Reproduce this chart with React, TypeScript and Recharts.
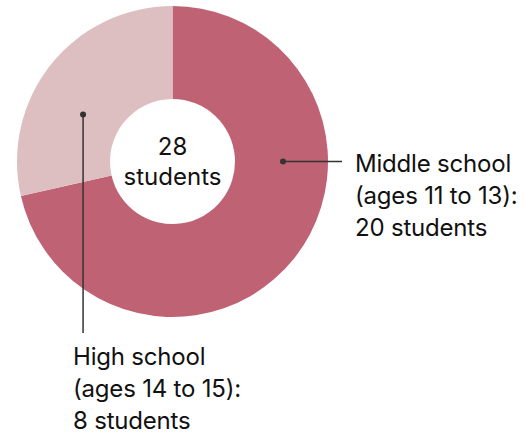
import React from "react";
import { PieChart, Pie, Cell } from "recharts";

const categories = ["Middle school", "High school"];
const ages = ["(ages 11 to 13):", "(ages 14 to 15):"];
const students = [20, 8];
const colors = ["#bf6273", "#debfc1"];

const data = categories.map((name, i) => ({ name, value: students[i] }));
const total = students.reduce((a, b) => a + b, 0);

const FONT = "Inter, Roboto, 'Noto Sans', sans-serif";
const FS = 24;
const CX = 172.5;
const CY = 161.5;
const INNER = 62.5;
const OUTER = 155.5;

// annotation config: angle (deg), radius, label placement
const annotations = [
  { angle: 0, r: 110.5, kind: "right", lineTo: 342, textX: 355, textY: 172 },
  { angle: 152.3, r: 101, kind: "down", lineTo: 333, textX: 73, textY: 365 },
];

const renderLabel = (props: any) => {
  const { index, cx, cy } = props;
  const a = annotations[index];
  const rad = (a.angle * Math.PI) / 180;
  const x = cx + a.r * Math.cos(rad);
  const y = cy - a.r * Math.sin(rad);
  const lines = [categories[index], ages[index], `${students[index]} students`];
  return (
    <g key={`lbl-${index}`}>
      {a.kind === "right" ? (
        <line x1={x} y1={y} x2={a.lineTo} y2={y} stroke="#333" strokeWidth={1.5} />
      ) : (
        <line x1={x} y1={y} x2={x} y2={a.lineTo} stroke="#333" strokeWidth={1.5} />
      )}
      <circle cx={x} cy={y} r={3} fill="#333" />
      <text fontFamily={FONT} fontSize={FS} fill="#111" letterSpacing={-0.2}>
        {lines.map((l, i) => (
          <tspan key={i} x={a.textX} y={a.textY + i * 32}>
            {l}
          </tspan>
        ))}
      </text>
    </g>
  );
};

export default function App() {
  return (
    <div style={{ position: "absolute", left: 0, top: 0, background: "#fff" }}>
      <PieChart width={525} height={436} margin={{ top: 0, right: 0, bottom: 0, left: 0 }}>
        <Pie
          data={data}
          dataKey="value"
          cx={CX}
          cy={CY}
          innerRadius={INNER}
          outerRadius={OUTER}
          startAngle={90}
          endAngle={-270}
          stroke="none"
          isAnimationActive={false}
          label={renderLabel}
          labelLine={false}
        >
          {data.map((d, i) => (
            <Cell key={d.name} fill={colors[i]} />
          ))}
        </Pie>
        <text x={CX} y={155} textAnchor="middle" fontFamily={FONT} fontSize={FS} fill="#111">
          {total}
        </text>
        <text x={CX} y={185} textAnchor="middle" fontFamily={FONT} fontSize={FS} fill="#111">
          students
        </text>
      </PieChart>
    </div>
  );
}
